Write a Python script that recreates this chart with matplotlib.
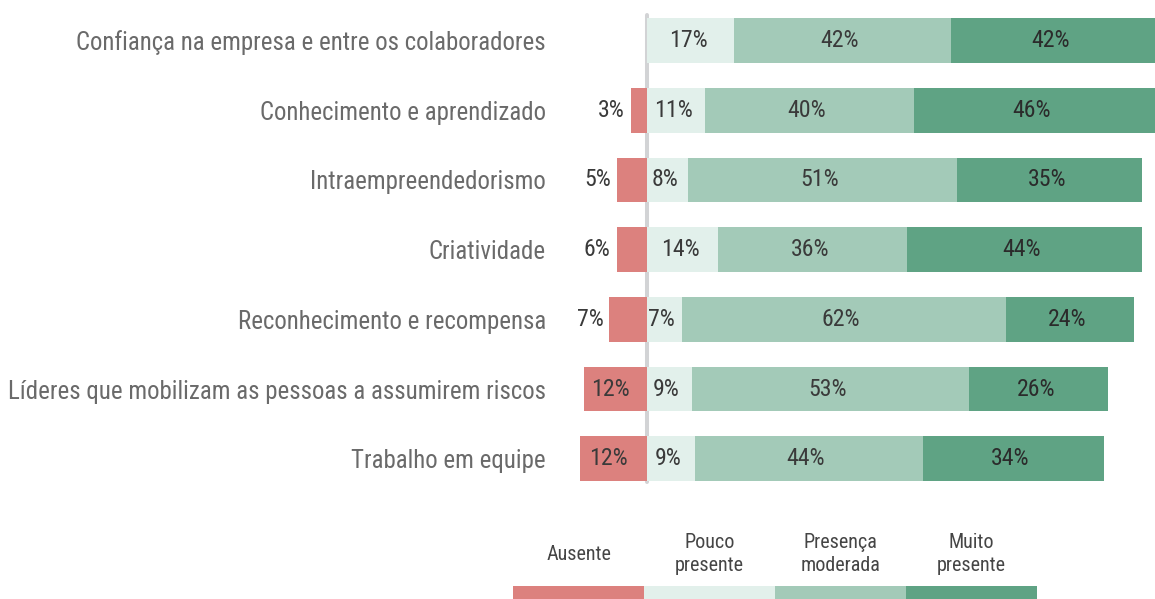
import matplotlib
matplotlib.use("Agg")
import matplotlib.pyplot as plt
import matplotlib.font_manager as fm

# ---------------- data ----------------
categories = [
    "Confiança na empresa e entre os colaboradores",
    "Conhecimento e aprendizado",
    "Intraempreendedorismo",
    "Criatividade",
    "Reconhecimento e recompensa",
    "Líderes que mobilizam as pessoas a assumirem riscos",
    "Trabalho em equipe",
]
ausente = [0.0, 3.1, 5.7, 5.8, 7.2, 12.0, 12.8]
pouco = [16.6, 11.0, 7.9, 13.6, 6.6, 8.5, 9.1]
moderada = [41.3, 39.9, 51.1, 35.9, 61.8, 52.8, 43.4]
muito = [42.0, 46.0, 35.3, 44.7, 24.4, 26.6, 34.5]

lab_ausente = ["", "3%", "5%", "6%", "7%", "12%", "12%"]
lab_pouco = ["17%", "11%", "8%", "14%", "7%", "9%", "9%"]
lab_moderada = ["42%", "40%", "51%", "36%", "62%", "53%", "44%"]
lab_muito = ["42%", "46%", "35%", "44%", "24%", "26%", "34%"]

legend_labels = ["Ausente", "Pouco\npresente", "Presença\nmoderada", "Muito\npresente"]

# ---------------- style ----------------
C_RED = "#DC817E"
C_LIGHT = "#E2F0EB"
C_MID = "#A3CAB8"
C_DARK = "#5FA384"
colors = [C_RED, C_LIGHT, C_MID, C_DARK]

names = {f.name for f in fm.fontManager.ttflist}
cond_dejavu = any(f.name == "DejaVu Sans" and "condensed" in str(f.stretch) for f in fm.fontManager.ttflist)
FONT = dict(family="DejaVu Sans")
for cand in ["Roboto Condensed", "Liberation Sans Narrow", "Open Sans Condensed", "Noto Sans Condensed"]:
    if cand in names:
        FONT = dict(family=cand)
        break
else:
    if cond_dejavu:
        FONT = dict(family="DejaVu Sans", stretch="condensed")

W, H, DPI = 1155, 599, 100
fig = plt.figure(figsize=(W / DPI, H / DPI), dpi=DPI)

# geometry in pixels
zero_px = 647.0
px_per = 5.25
ax_left_px, ax_right_px = 560.0, 1155.0
row0_px, row_step = 40.5, 69.7
ax_top_px = row0_px - 0.5 * row_step
ax_bot_px = row0_px + 6.5 * row_step

ax = fig.add_axes([ax_left_px / W, 1 - ax_bot_px / H,
                   (ax_right_px - ax_left_px) / W, (ax_bot_px - ax_top_px) / H])
xl = (ax_left_px - zero_px) / px_per
xr = (ax_right_px - zero_px) / px_per
ax.set_xlim(xl, xr)
ax.set_ylim(6.5, -0.5)
for s in ax.spines.values():
    s.set_visible(False)
ax.set_xticks([])
ax.set_yticks(range(len(categories)))
ax.set_yticklabels(categories, fontsize=17.9, color="#6a6a6a", **FONT)
ax.tick_params(axis="y", length=0, pad=10)

y = list(range(len(categories)))
bh = 0.64
LBL = 17.2

# zero line (behind bars)
ax.plot([0, 0], [-0.36, 6.34], color="#D2D3D5", lw=2.9, zorder=1, solid_capstyle="round")

ax.barh(y, [-v for v in ausente], height=bh, color=C_RED, zorder=2)
left = [0.0] * len(y)
segs = [pouco, moderada, muito]
seg_labels = [lab_pouco, lab_moderada, lab_muito]
for vals, col, labs in zip(segs, colors[1:], seg_labels):
    ax.barh(y, vals, left=left, height=bh, color=col, zorder=2)
    for i, (l, v, t) in enumerate(zip(left, vals, labs)):
        end = min(l + v, xr)
        cx = (l + end) / 2 - 0.5
        ax.text(cx, i, t, ha="center", va="center", fontsize=LBL,
                color="#2b2b2b" if col == C_DARK else "#3a3a3a", zorder=3, **FONT)
    left = [a + b for a, b in zip(left, vals)]

for i, (v, t) in enumerate(zip(ausente, lab_ausente)):
    if not t:
        continue
    if v >= 10:
        ax.text(-v / 2 - 0.9, i, t, ha="center", va="center", fontsize=LBL,
                color="#3a3a3a", zorder=3, **FONT)
    else:
        ax.text(-v - 1.1, i, t, ha="right", va="center", fontsize=LBL,
                color="#3a3a3a", zorder=3, **FONT)

# ---------------- legend ----------------
lg_left, lg_right = 513.0, 1037.0
lg_top, lg_bot = 586.0, 600.0
lax = fig.add_axes([lg_left / W, 1 - lg_bot / H, (lg_right - lg_left) / W, (lg_bot - lg_top) / H])
lax.set_xlim(0, 4)
lax.set_ylim(0, 1)
lax.axis("off")
lax.bar(range(4), [1] * 4, width=1.0, align="edge", color=colors)
for i, t in enumerate(legend_labels):
    fig.text((lg_left + (i + 0.5) * (lg_right - lg_left) / 4) / W, 1 - 554 / H, t,
             ha="center", va="center", fontsize=14.5, color="#454545",
             linespacing=1.25, **FONT)

fig.savefig("out.png", dpi=DPI)
